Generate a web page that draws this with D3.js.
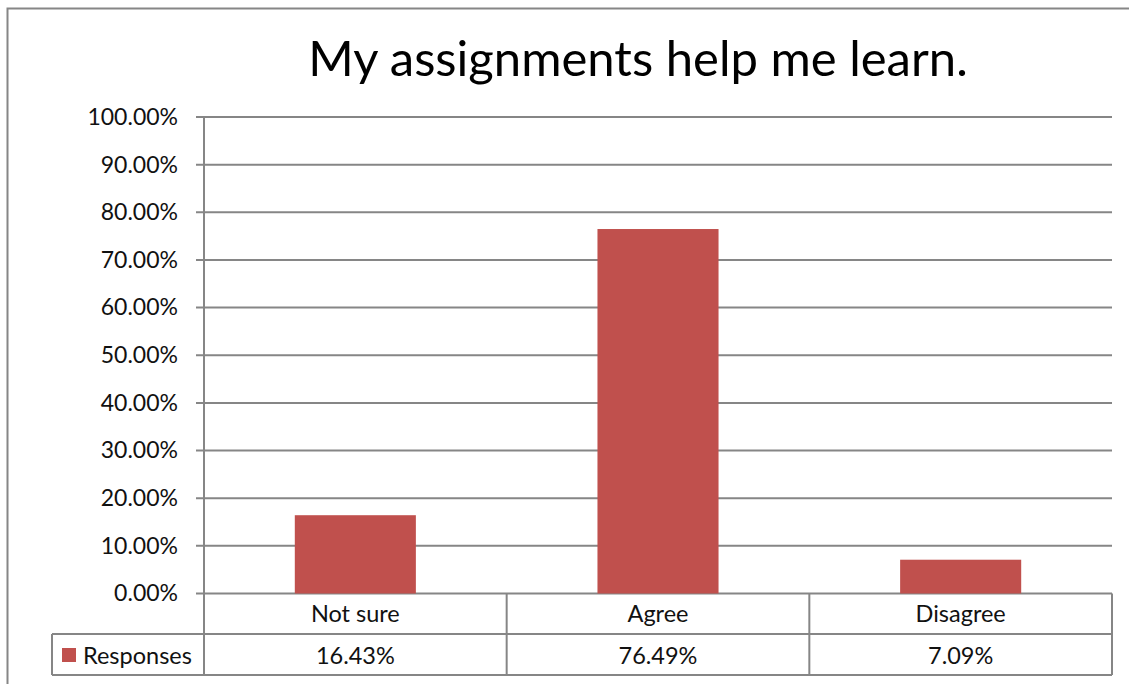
<!DOCTYPE html>
<html>
<head>
<meta charset="utf-8">
<script src="https://cdn.jsdelivr.net/npm/d3@7"></script>
<style>
  body { margin: 0; background: #fff; }
  text { font-family: Lato, "Open Sans", sans-serif; }
</style>
</head>
<body>
<div id="chart"></div>
<script>
// chart size
var w = 1129;
var h = 684;

// data
var categories = ["Not sure", "Agree", "Disagree"];
var values = [16.43, 76.49, 7.09];
var valueLabels = ["16.43%", "76.49%", "7.09%"];
var yTicks = [0, 10, 20, 30, 40, 50, 60, 70, 80, 90, 100];
var seriesName = "Responses";
var title = "My assignments help me learn.";

var gridColor = "#868686";
var barColor = "#c0504d";

var svg = d3.select("#chart").append("svg")
  .attr("width", w)
  .attr("height", h);

// outer chart border
svg.append("rect")
  .attr("x", 7.5)
  .attr("y", 8.5)
  .attr("width", w + 20)
  .attr("height", h + 20)
  .attr("fill", "white")
  .attr("stroke", gridColor)
  .attr("stroke-width", 2);

// scales
var xScale = d3.scaleBand()
  .domain(categories)
  .range([204, 1112])
  .paddingInner(0)
  .paddingOuter(0);

var yScale = d3.scaleLinear()
  .domain([0, 100])
  .range([593.5, 117]);

// gridlines
svg.append("g")
  .selectAll("line")
  .data(yTicks)
  .enter()
  .append("line")
  .attr("x1", 196)
  .attr("x2", 1112)
  .attr("y1", function(d) { return yScale(d); })
  .attr("y2", function(d) { return yScale(d); })
  .attr("stroke", gridColor)
  .attr("stroke-width", 2);

// y axis
var yAxis = d3.axisLeft(yScale)
  .tickValues(yTicks)
  .tickSize(0)
  .tickPadding(26)
  .tickFormat(function(d) { return d.toFixed(2) + "%"; });

var yG = svg.append("g")
  .attr("transform", "translate(204,0)")
  .call(yAxis);
yG.select(".domain").remove();
yG.selectAll("text")
  .attr("font-family", "Lato, sans-serif")
  .attr("font-size", "23px")
  .attr("fill", "#111");

// bars
svg.selectAll(".bar")
  .data(values)
  .enter()
  .append("rect")
  .attr("class", "bar")
  .attr("x", function(d, i) { return xScale(categories[i]) + xScale.bandwidth() * 0.3; })
  .attr("width", xScale.bandwidth() * 0.4)
  .attr("y", function(d) { return yScale(d); })
  .attr("height", function(d) { return yScale(0) - yScale(d); })
  .attr("fill", barColor);

// vertical axis line
svg.append("line")
  .attr("x1", 204).attr("x2", 204)
  .attr("y1", yScale(100)).attr("y2", 675)
  .attr("stroke", gridColor)
  .attr("stroke-width", 2);

// data table
var rowTop = yScale(0);
var rowMid = 634;
var rowBot = 675;
var tableLeft = 52;

var table = svg.append("g");

table.append("line")
  .attr("x1", tableLeft).attr("x2", 1112)
  .attr("y1", rowMid).attr("y2", rowMid)
  .attr("stroke", gridColor).attr("stroke-width", 2);
table.append("line")
  .attr("x1", tableLeft).attr("x2", 1112)
  .attr("y1", rowBot).attr("y2", rowBot)
  .attr("stroke", gridColor).attr("stroke-width", 2);
table.append("line")
  .attr("x1", tableLeft).attr("x2", tableLeft)
  .attr("y1", rowMid).attr("y2", rowBot)
  .attr("stroke", gridColor).attr("stroke-width", 2);

// cell dividers
table.selectAll(".divider")
  .data(categories)
  .enter()
  .append("line")
  .attr("class", "divider")
  .attr("x1", function(d) { return xScale(d) + xScale.bandwidth(); })
  .attr("x2", function(d) { return xScale(d) + xScale.bandwidth(); })
  .attr("y1", rowTop)
  .attr("y2", rowBot)
  .attr("stroke", gridColor)
  .attr("stroke-width", 2);

// category labels
table.selectAll(".cat")
  .data(categories)
  .enter()
  .append("text")
  .attr("class", "cat")
  .attr("x", function(d) { return xScale(d) + xScale.bandwidth() / 2; })
  .attr("y", 622)
  .attr("text-anchor", "middle")
  .attr("font-size", "23.5px")
  .attr("fill", "#111")
  .text(function(d) { return d; });

// value labels
table.selectAll(".val")
  .data(valueLabels)
  .enter()
  .append("text")
  .attr("class", "val")
  .attr("x", function(d, i) { return xScale(categories[i]) + xScale.bandwidth() / 2; })
  .attr("y", 664)
  .attr("text-anchor", "middle")
  .attr("font-size", "23.5px")
  .attr("fill", "#111")
  .text(function(d) { return d; });

// legend key
table.append("rect")
  .attr("x", 62)
  .attr("y", 648)
  .attr("width", 14)
  .attr("height", 14)
  .attr("fill", barColor);
table.append("text")
  .attr("x", 83)
  .attr("y", 664)
  .attr("font-size", "23.5px")
  .attr("fill", "#111")
  .text(seriesName);

// title
svg.append("text")
  .attr("x", 638)
  .attr("y", 76)
  .attr("text-anchor", "middle")
  .attr("font-size", "49px")
  .attr("fill", "#000")
  .text(title);
</script>
</body>
</html>
